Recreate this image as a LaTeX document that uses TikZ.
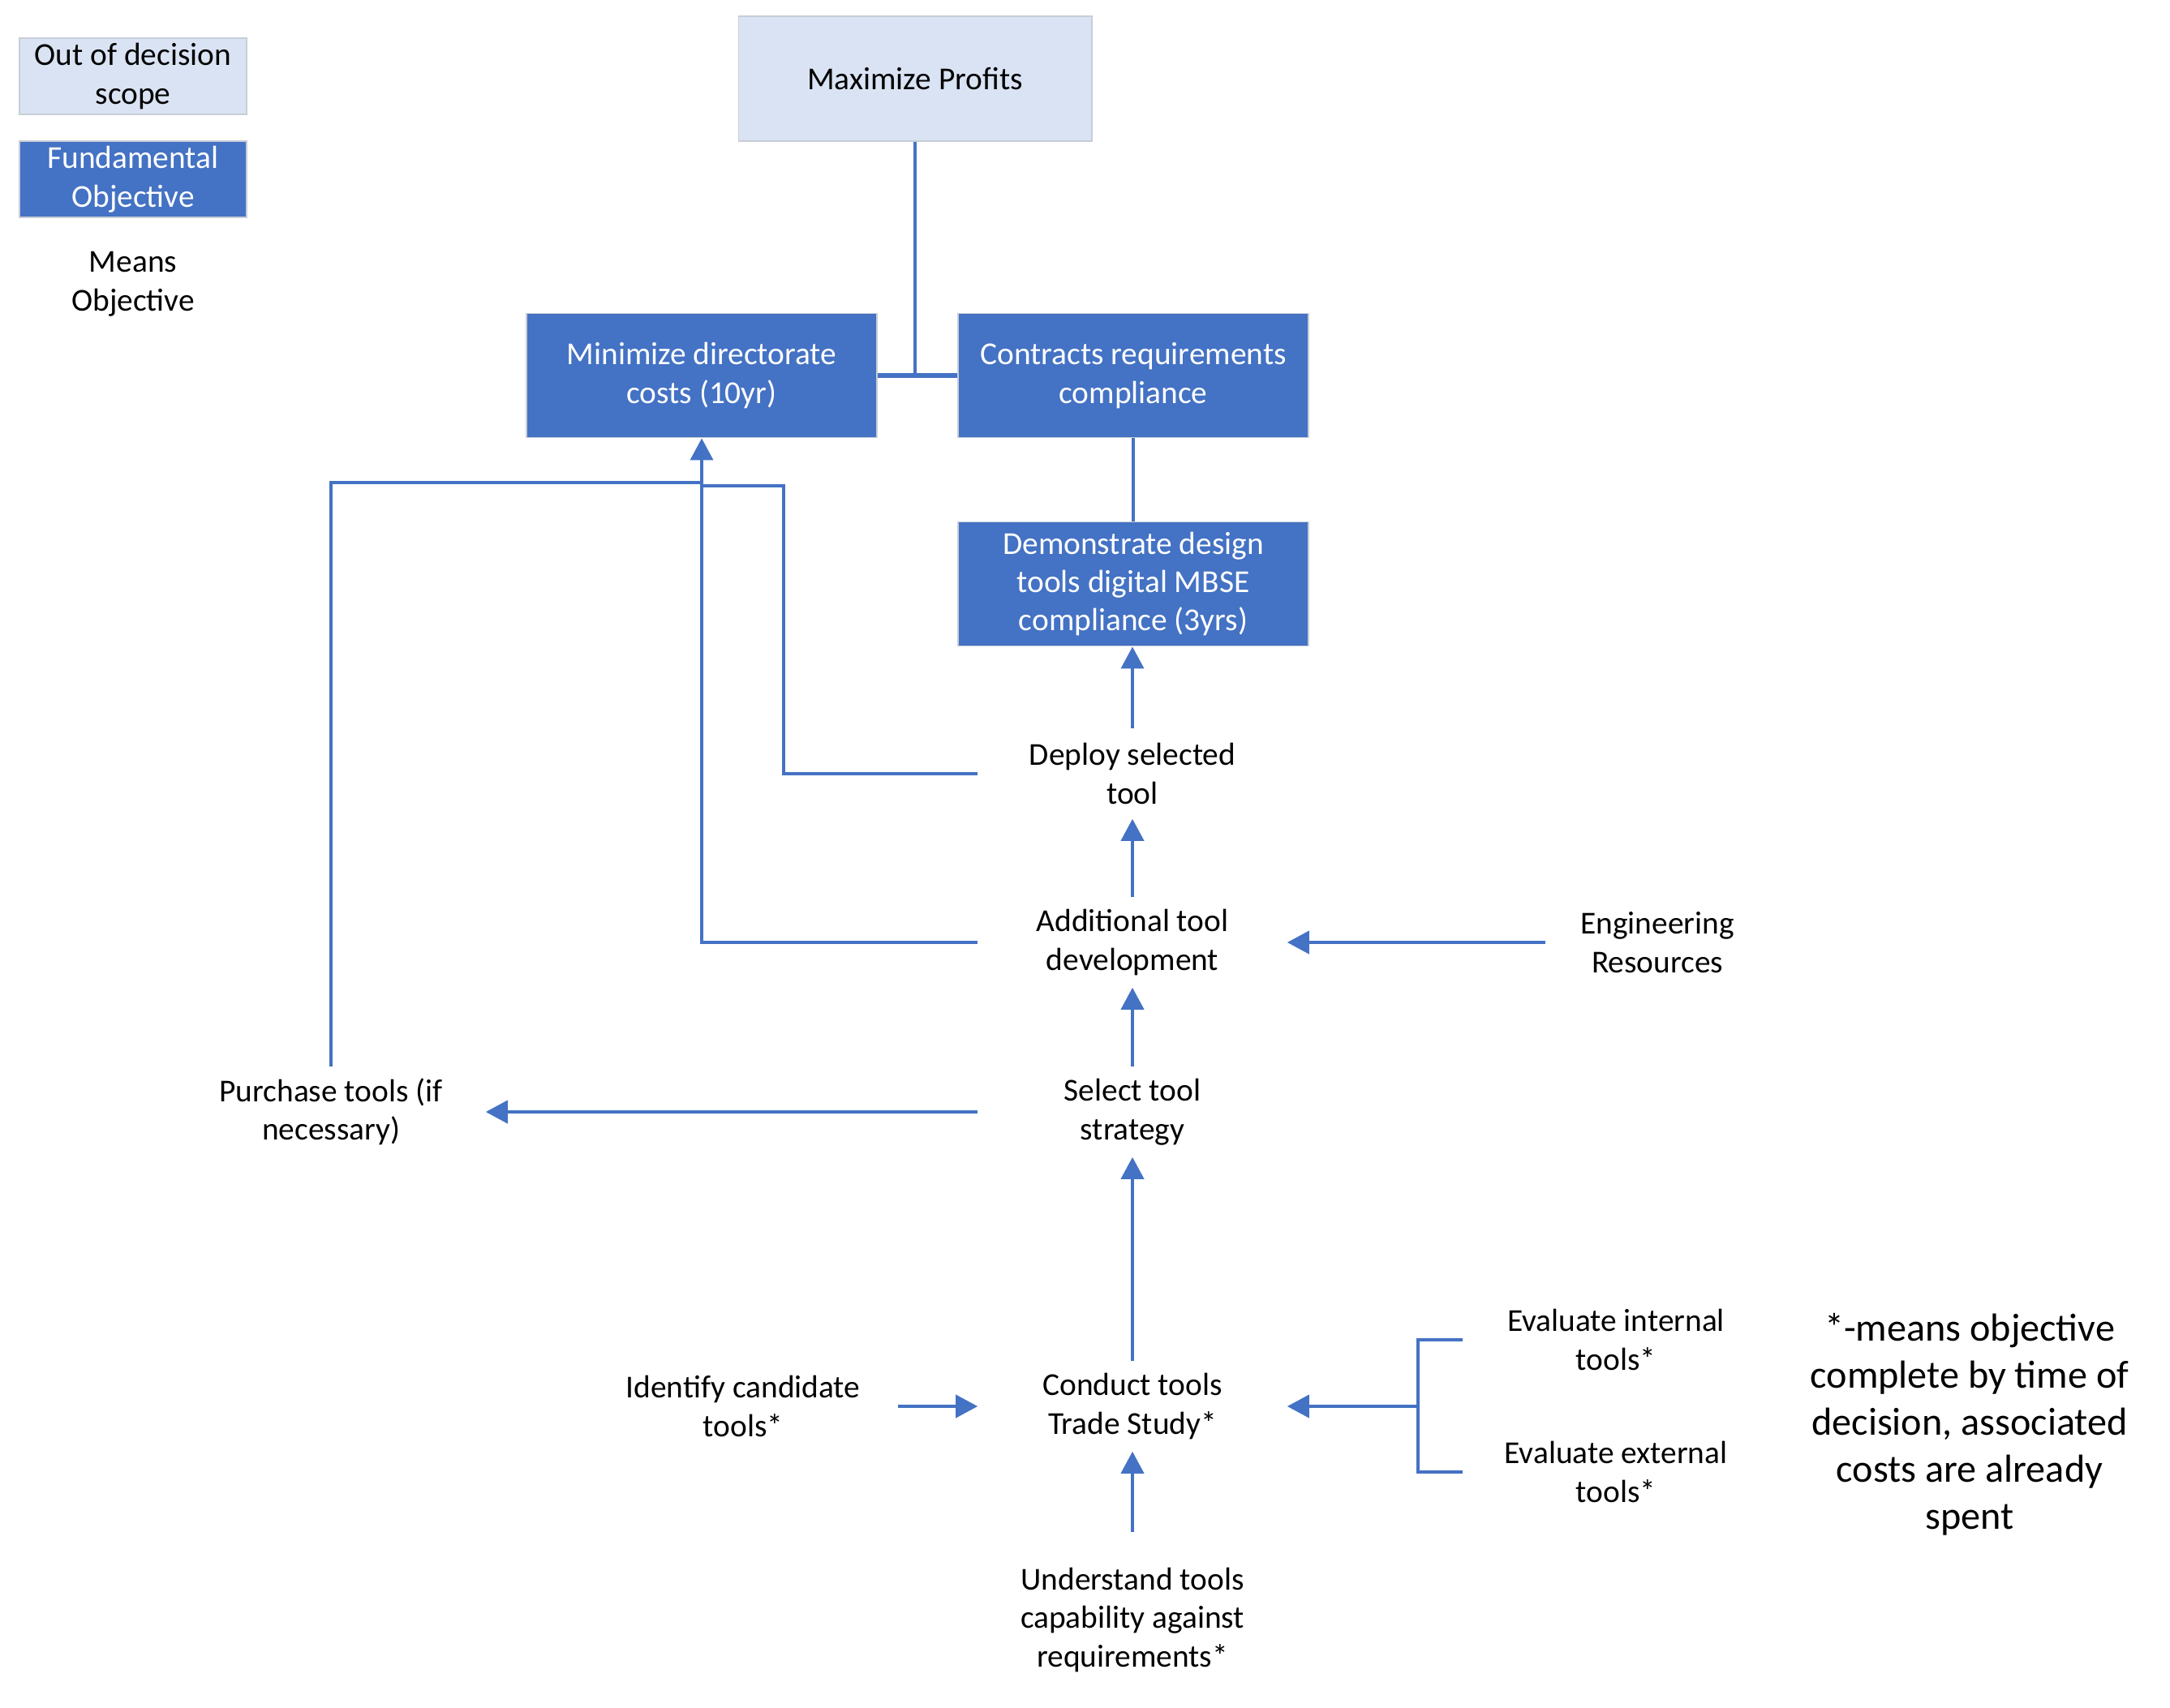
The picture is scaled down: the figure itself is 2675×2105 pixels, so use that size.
\documentclass[tikz,border=0pt]{standalone}
\usepackage{fontspec}
\setmainfont{Carlito}
\usetikzlibrary{arrows.meta}
\definecolor{objblue}{HTML}{4472C4}
\definecolor{scopefill}{HTML}{DAE3F3}
\definecolor{edgegray}{HTML}{C8CDD6}
\tikzstyle{txt}=[font=\fontsize{11.2}{13.5}\selectfont,align=center,inner sep=0pt]
\tikzstyle{scopebox}=[txt,fill=scopefill,draw=edgegray,line width=.5pt]
\tikzstyle{fundbox}=[txt,fill=objblue,draw=edgegray,line width=.5pt,text=white]
\tikzstyle{means}=[txt,minimum width=3.8cm,minimum height=1.1cm]
\tikzstyle{lnk}=[draw=objblue,line width=1.1pt]
\tikzstyle{arr}=[lnk,-{Triangle[length=.27cm,width=.28cm]}]

\begin{document}
\begin{tikzpicture}[x=.01cm,y=-.01cm]
\useasboundingbox (0,0) rectangle (2675,2105);
% legend
\node[scopebox,minimum width=2.8cm,minimum height=.94cm] (lgscope) at (164,94) {Out of decision\\scope};
\node[fundbox,minimum width=2.8cm,minimum height=.94cm] (lgfund) at (164,221) {Fundamental\\Objective};
\node[txt] (lgmeans) at (164,350) {Means\\Objective};
% objectives
\node[scopebox,minimum width=4.35cm,minimum height=1.54cm] (maxp) at (1128,97) {Maximize Profits};
\node[fundbox,minimum width=4.32cm,minimum height=1.53cm] (mincost) at (865,463) {Minimize directorate\\costs (10yr)};
\node[fundbox,minimum width=4.32cm,minimum height=1.53cm] (contr) at (1397,463) {Contracts requirements\\compliance};
\node[fundbox,minimum width=4.32cm,minimum height=1.53cm] (demo) at (1397,720) {Demonstrate design\\tools digital MBSE\\compliance (3yrs)};
% means
\node[means] (deploy) at (1396,954) {Deploy selected\\tool};
\node[means] (addl) at (1396,1162) {Additional tool\\development};
\node[means,minimum width=2.75cm] (eng) at (2043,1162) {Engineering\\Resources};
\node[means] (select) at (1396,1371) {Select tool\\strategy};
\node[means] (purch) at (408,1371) {Purchase tools (if\\necessary)};
\node[means] (conduct) at (1396,1734) {Conduct tools\\Trade Study*};
\node[means] (ident) at (916,1734) {Identify candidate\\tools*};
\node[means,minimum width=3.76cm] (evin) at (1992,1652) {Evaluate internal\\tools*};
\node[means,minimum width=3.76cm] (evex) at (1992,1815) {Evaluate external\\tools*};
\node[means,minimum height=2.15cm] (und) at (1396,1997) {Understand tools\\capability against\\requirements*};
\node[txt,font=\fontsize{13.7}{16.5}\selectfont] (note) at (2428,1756) {*-means objective\\complete by time of\\decision, associated\\costs are already\\spent};
% connectors
\coordinate (jp) at (865,595);
\coordinate (kd) at (966,599);
\coordinate (br) at (1748,1734);
\draw[lnk,line width=1.5pt] (mincost.east) -- (contr.west);
\draw[lnk] (maxp.south) -- (maxp.south |- mincost.east);
\draw[lnk] (contr.south) -- (demo.north);
\draw[arr] (deploy.north) -- (deploy.north |- demo.south);
\draw[arr] (addl.north) -- (deploy.south);
\draw[arr] (select.north) -- (addl.south);
\draw[arr] (conduct.north) -- (select.south);
\draw[arr] (und.north) -- (conduct.south);
\draw[arr] (ident.east) -- (conduct.west);
\draw[arr] (eng.west) -- (addl.east);
\draw[arr] (select.west) -- (purch.east);
\draw[arr] (addl.west) -| (mincost.south);
\draw[lnk] (purch.north) |- (jp);
\draw[lnk] (deploy.west) -| (kd) -- (kd -| mincost.south);
\draw[lnk] (evin.west) -| (br) |- (evex.west);
\draw[arr] (br) -- (conduct.east);
\end{tikzpicture}
\end{document}
